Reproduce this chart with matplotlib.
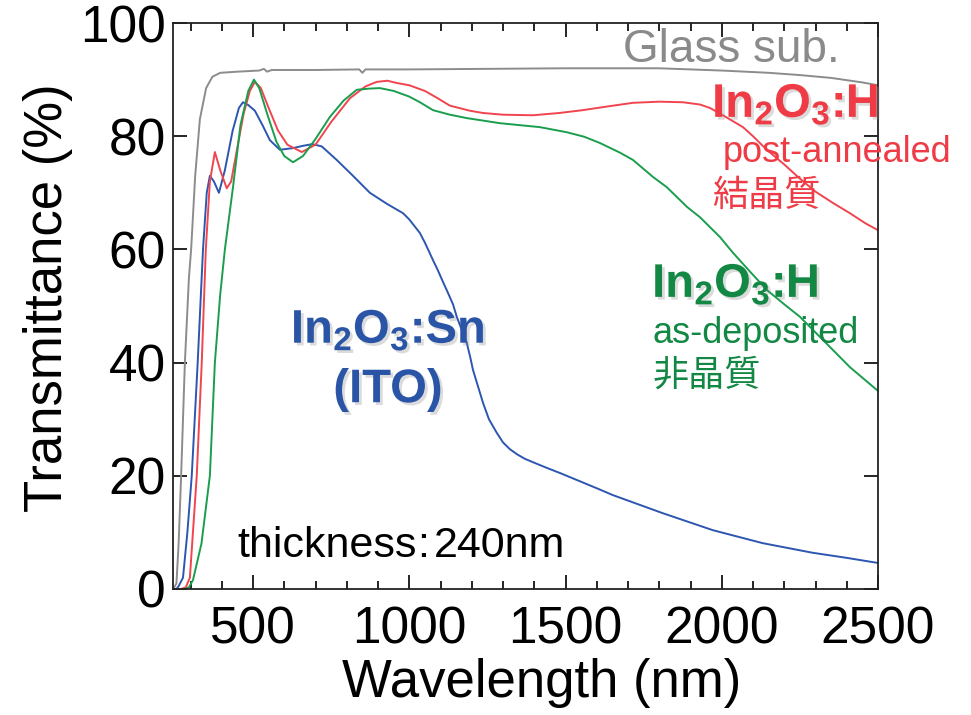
import matplotlib
matplotlib.use("Agg")
import matplotlib.pyplot as plt
import matplotlib.patheffects as pe
from matplotlib.ticker import MultipleLocator

plt.rcParams["font.family"] = ["Liberation Sans", "Noto Sans CJK JP"]
plt.rcParams["mathtext.fontset"] = "custom"
plt.rcParams["mathtext.default"] = "regular"

# glass substrate
glass_nm = [245, 255, 262, 270, 282, 295, 302, 315, 330, 350, 370, 395, 450, 520, 535, 545,
            560, 700, 840, 850, 860, 1000, 1500, 1800, 2000, 2150, 2250, 2350, 2450, 2500]
glass_t = [0, 1, 8, 20, 40, 55, 60, 73, 83, 88.5, 90.5, 91.2, 91.4, 91.6, 91.9, 91.4,
           91.7, 91.7, 91.8, 91.2, 91.8, 91.8, 92.0, 92.0, 91.6, 91.2, 90.8, 90.3, 89.5, 89.0]

# In2O3:Sn (ITO)
ito_nm = [255, 262, 276, 290, 304, 323, 340, 352, 362, 375, 391, 410, 435, 455, 468, 485,
          506, 530, 554, 586, 628, 660, 690, 720, 768, 820, 874, 930, 980, 1000, 1034, 1050,
          1076, 1090, 1110, 1120, 1140, 1152, 1170, 1184, 1195, 1204, 1220, 1236, 1255, 1280,
          1300, 1322, 1345, 1370, 1396, 1440, 1482, 1600, 1651, 1811, 1971, 2131, 2291, 2400,
          2500]
ito_t = [0, 0.5, 2, 10, 20, 40, 60, 70, 73, 72, 70, 74, 81, 85, 86, 85.5,
         84.5, 82, 79.3, 77.6, 77.9, 78.3, 78.6, 78.2, 75.8, 73, 70, 68, 66.4, 65.3, 62.9, 61.2,
         58.1, 56.5, 54, 52.8, 50.3, 48.1, 45.5, 43.5, 41, 38.7, 35.8, 32.9, 30, 27.6,
         25.9, 24.7, 23.8, 23.0, 22.4, 21.4, 20.5, 17.8, 16.6, 13.4, 10.4, 8.1, 6.4, 5.5,
         4.6]

# In2O3:H post-annealed
ann_nm = [270, 285, 298, 320, 336, 349, 362, 378, 395, 416, 430, 450, 470, 490, 506, 525,
          550, 580, 610, 656, 700, 750, 810, 860, 896, 930, 960, 1000, 1050, 1088, 1130, 1194,
          1236, 1300, 1396, 1480, 1555, 1640, 1716, 1800, 1875, 1930, 1962, 2010, 2068, 2100,
          2144, 2200, 2250, 2300, 2356, 2410, 2460, 2500]
ann_t = [0, 0.3, 2, 20, 40, 60, 72, 77.2, 74, 70.8, 72, 78, 84, 88, 89.6, 88.5,
         85, 81, 78.5, 77.2, 78.5, 82.5, 86.7, 88.8, 89.6, 89.8, 89.4, 89, 88, 86.8, 85.4, 84.5,
         84.1, 83.8, 83.7, 84.1, 84.6, 85.3, 85.9, 86.1, 86, 85.6, 85, 83.5, 81.6, 80,
         77.6, 75, 72.5, 70.2, 68.2, 66.4, 64.6, 63.4]

# In2O3:H as-deposited
dep_nm = [282, 295, 308, 335, 362, 378, 395, 410, 436, 460, 485, 503, 520, 545, 575, 600,
          628, 660, 700, 746, 790, 832, 870, 906, 950, 1000, 1034, 1076, 1130, 1184, 1290, 1418,
          1504, 1560, 1610, 1674, 1716, 1780, 1824, 1889, 1930, 1994, 2036, 2090, 2145, 2200,
          2250, 2324, 2410, 2500]
dep_t = [0, 0.3, 1.6, 8, 20, 40, 52, 60, 71, 82, 88, 90, 88.5, 84, 79, 76.5,
         75.4, 76.5, 79.5, 83.4, 86.3, 88.2, 88.4, 88.5, 88, 87, 86, 84.6, 83.8, 83.2, 82.3, 81.6,
         80.7, 79.9, 78.8, 77.1, 75.8, 72.8, 71, 67.5, 65.7, 62.2, 59.4, 56.1, 52.8, 50.3,
         48.1, 44.0, 39.2, 35.0]

fig = plt.figure(figsize=(9.71, 7.15), dpi=100)
ax = fig.add_axes([173 / 971, 126 / 715, 705 / 971, 566 / 715])

ax.plot(glass_nm, glass_t, color="#8c8c8c", lw=1.4)
ax.plot(ito_nm, ito_t, color="#2d56b0", lw=1.4)
ax.plot(ann_nm, ann_t, color="#f0454f", lw=1.4)
ax.plot(dep_nm, dep_t, color="#1a9e4d", lw=1.4)

ax.set_xlim(244, 2500)
ax.set_ylim(0, 100)
ax.set_xticks([500, 1000, 1500, 2000, 2500])
ax.xaxis.set_minor_locator(MultipleLocator(100))
ax.set_yticks([0, 20, 40, 60, 80, 100])
ax.tick_params(which="both", direction="in", top=True, right=True, width=1.2, labelsize=37)
ax.tick_params(which="major", length=10)
ax.tick_params(which="minor", length=6)
ax.tick_params(axis="y", pad=5)
ax.tick_params(axis="x", pad=12)
for s in ax.spines.values():
    s.set_linewidth(1.3)
    s.set_color("#222222")

ax.set_xlabel("Wavelength (nm)", fontsize=38)
ax.set_ylabel("Transmittance (%)", fontsize=38)
ax.xaxis.set_label_coords(0.523, -0.122)
ax.yaxis.set_label_coords(-0.142, 0.514)

shadow = [pe.SimplePatchShadow(offset=(2, -2), shadow_rgbFace="#888888", alpha=0.3), pe.Normal()]

ax.text(1684, 93.1, "Glass sub.", color="#8a8a8a", fontsize=33, va="baseline")

ax.text(1969, 83.4, r"In$_2$O$_3$:H", color="#ee3b45", fontsize=34, fontweight="bold",
        va="baseline", path_effects=shadow)
ax.text(2004, 75.4, "post-annealed", color="#ee3b45", fontsize=26, va="baseline")
ax.text(1969, 67.7, "結晶質", color="#ee3b45", fontsize=26, va="baseline")

ax.text(1777, 51.6, r"In$_2$O$_3$:H", color="#138845", fontsize=34, fontweight="bold",
        va="baseline", path_effects=shadow)
ax.text(1777, 43.5, "as-deposited", color="#138845", fontsize=26, va="baseline")
ax.text(1777, 35.9, "非晶質", color="#138845", fontsize=26, va="baseline")

ax.text(932, 43.5, r"In$_2$O$_3$:Sn", color="#2a55a6", fontsize=34, fontweight="bold",
        ha="center", va="baseline", path_effects=shadow)
ax.text(932, 33, "(ITO)", color="#2a55a6", fontsize=34, fontweight="bold",
        ha="center", va="baseline", path_effects=shadow)

ax.text(449, 5.65, "thickness", color="black", fontsize=31, va="baseline")
ax.text(1044, 5.65, ":", color="black", fontsize=31, ha="center", va="baseline")
ax.text(1080, 5.65, "240nm", color="black", fontsize=31, va="baseline")

fig.savefig("out.png", dpi=100)
